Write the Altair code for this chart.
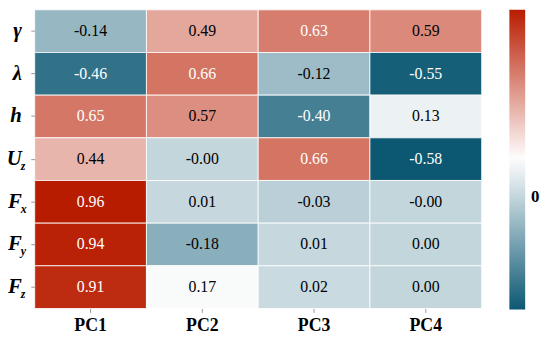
import altair as alt
import pandas as pd

rows = ["γ", "λ", "h", "Uz", "Fx", "Fy", "Fz"]
row_main = ["γ", "λ", "h", "U", "F", "F", "F"]
row_sub = ["", "", "", "z", "x", "y", "z"]
cols = ["PC1", "PC2", "PC3", "PC4"]
values = [
    [-0.14, 0.49, 0.63, 0.59],
    [-0.46, 0.66, -0.12, -0.55],
    [0.65, 0.57, -0.40, 0.13],
    [0.44, -0.0, 0.66, -0.58],
    [0.96, 0.01, -0.03, -0.0],
    [0.94, -0.18, 0.01, 0.00],
    [0.91, 0.17, 0.02, 0.00],
]

recs = []
for r, vals in zip(rows, values):
    for c, v in zip(cols, vals):
        recs.append({"row": r, "col": c, "v": v, "lab": f"{v:.2f}"})
df = pd.DataFrame(recs)
lab_df = pd.DataFrame({"row": rows, "main": row_main, "sub": row_sub})

vmin = min(min(r) for r in values)
vmax = max(max(r) for r in values)
mid = (vmin + vmax) / 2

FONT = "Liberation Serif"

y_enc = alt.Y("row:N", sort=rows, title=None,
              axis=alt.Axis(labels=False, ticks=True, tickSize=4, domain=False,
                            tickColor="#999999"))
x_enc = alt.X("col:N", sort=cols, title=None,
              axis=alt.Axis(labelAngle=0, labelFont=FONT, labelFontSize=18,
                            labelFontWeight="bold", labelColor="black",
                            ticks=True, tickSize=4, tickColor="#999999",
                            domain=False, labelPadding=4))

heat = alt.Chart(df).mark_rect(stroke="white", strokeWidth=0.8).encode(
    x=x_enc, y=y_enc,
    color=alt.Color("v:Q",
                    scale=alt.Scale(domain=[vmin, mid, vmax],
                                    range=["#0c5873", "#ffffff", "#b81c00"],
                                    interpolate="rgb"),
                    legend=alt.Legend(title=None, values=[0], format="d",
                                      gradientLength=303,
                                      gradientThickness=16, gradientStrokeWidth=0,
                                      labelFont=FONT, labelFontSize=17,
                                      labelFontWeight="bold", labelColor="black",
                                      offset=28, labelOffset=6)),
)

text = alt.Chart(df).mark_text(font=FONT, fontSize=16).encode(
    x=alt.X("col:N", sort=cols), y=alt.Y("row:N", sort=rows),
    text="lab:N",
    color=alt.condition("datum.v > 0.6 || datum.v < -0.3",
                        alt.value("white"), alt.value("black")),
)

main_lab = alt.Chart(lab_df).mark_text(
    font=FONT, fontSize=21, fontWeight="bold", fontStyle="italic",
    align="right", baseline="middle", color="black",
).encode(x=alt.value(-13), y=alt.Y("row:N", sort=rows), text="main:N")

sub_lab = alt.Chart(lab_df).mark_text(
    font=FONT, fontSize=12, fontWeight="bold", fontStyle="italic",
    align="left", baseline="middle", dy=7, color="black",
).encode(x=alt.value(-14), y=alt.Y("row:N", sort=rows), text="sub:N")

chart = alt.layer(heat, text, main_lab, sub_lab).properties(
    width=452, height=302,
    autosize=alt.AutoSizeParams(type="none"),
    padding={"left": 27, "top": 0, "right": 61, "bottom": 27},
).configure_view(strokeWidth=0)

chart.save("out.html", embed_options={"renderer": "svg", "actions": False})
